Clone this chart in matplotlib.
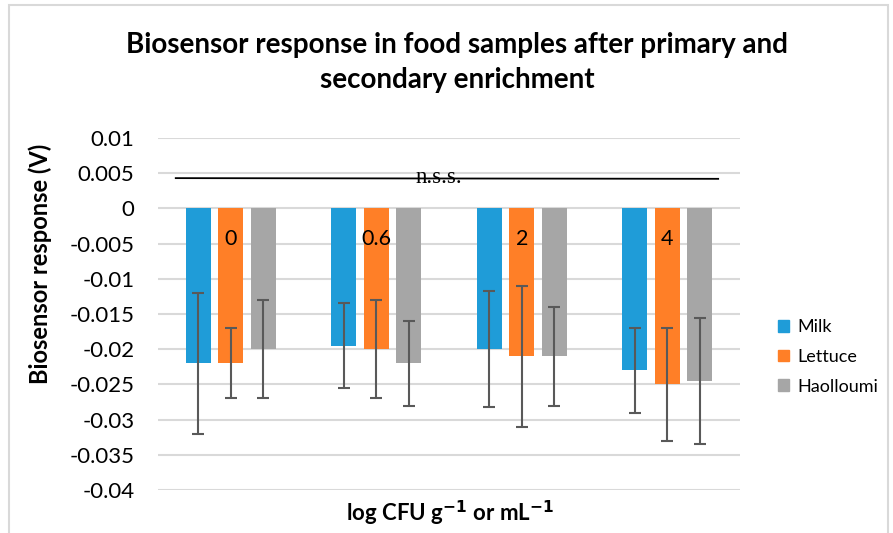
import matplotlib.pyplot as plt
import matplotlib.patches as mpatches
import numpy as np

plt.rcParams['font.family'] = ['Lato', 'DejaVu Sans']

groups = ["0", "0.6", "2", "4"]
series = ["Milk", "Lettuce", "Haolloumi"]
colors = ["#1F9CD8", "#FF7F27", "#A6A6A6"]

milk = [-0.022, -0.0195, -0.020, -0.023]
lettuce = [-0.022, -0.020, -0.021, -0.025]
haolloumi = [-0.020, -0.022, -0.021, -0.0245]

milk_err = [0.010, 0.006, 0.0082, 0.006]
lettuce_err = [0.005, 0.007, 0.010, 0.008]
haolloumi_err = [0.007, 0.006, 0.007, 0.009]

values = [milk, lettuce, haolloumi]
errors = [milk_err, lettuce_err, haolloumi_err]

fig = plt.figure(figsize=(8.93, 5.33), dpi=100)
ax = fig.add_axes([158 / 893, 1 - 490 / 533, (740 - 158) / 893, (490 - 138) / 533])

x = np.arange(len(groups))
w = 0.17
step = 0.223
for i in range(3):
    ax.bar(x + (i - 1) * step, values[i], w, color=colors[i], label=series[i], zorder=2)
    ax.errorbar(x + (i - 1) * step, values[i], yerr=errors[i], fmt='none',
                ecolor='#595959', elinewidth=1.5, capsize=4.5, capthick=1.5, zorder=3)

# category labels sit inside the bars
for i, g in enumerate(groups):
    ax.text(x[i], -0.0044, g, ha='center', va='center', fontsize=15.5, zorder=4)

# not significant line
ax.plot([-0.378, 3.35], [0.0043, 0.0042], color='black', lw=1.3, zorder=4)
ax.text(1.43, 0.0044, "n.s.s.", family='Liberation Serif', fontsize=16.5,
        ha='center', va='center', zorder=5)

ax.set_xlim(-0.5, 3.5)
ax.set_ylim(-0.04, 0.01)
ax.set_yticks(np.arange(-0.04, 0.0101, 0.005))
ax.set_yticklabels(["-0.04", "-0.035", "-0.03", "-0.025", "-0.02", "-0.015", "-0.01",
                    "-0.005", "0", "0.005", "0.01"])
ax.set_xticks([])
ax.tick_params(axis='y', length=0, labelsize=16, pad=17)
ax.grid(axis='y', color='#D9D9D9', lw=1.5, zorder=0)
for s in ax.spines.values():
    s.set_visible(False)

ax.set_ylabel("Biosensor response (V)", fontsize=17, fontweight='bold', va='center')
ax.yaxis.set_label_coords((40 - 158) / 582, (490 - 264) / 352)
ax.set_xlabel(r"log CFU g$^{\mathbf{-1}}$ or mL$^{\mathbf{-1}}$", fontsize=16,
              fontweight='bold', va='center')
ax.xaxis.set_label_coords((450 - 158) / 582, -(513 - 490) / 352)

fig.text(457 / 893, 1 - 45 / 533, "Biosensor response in food samples after primary and",
         ha='center', va='center', fontsize=20, fontweight='bold')
fig.text(457 / 893, 1 - 80 / 533, "secondary enrichment",
         ha='center', va='center', fontsize=20, fontweight='bold')

handles = [mpatches.Patch(color=c, label=s) for c, s in zip(colors, series)]
fig.legend(handles=handles, loc='center left', bbox_to_anchor=(778 / 893, 1 - 357 / 533),
           frameon=False, fontsize=13, handlelength=0.6, handleheight=0.6,
           handletextpad=0.45, labelspacing=0.75, borderpad=0, borderaxespad=0)

# light chart border
fig.patches.append(mpatches.Rectangle((9 / 893, -0.1), (888 - 9) / 893, 1.1 - 5 / 533,
                                      transform=fig.transFigure, fill=False,
                                      edgecolor='#D9D9D9', lw=1.5))

plt.savefig("out.png", dpi=100)
